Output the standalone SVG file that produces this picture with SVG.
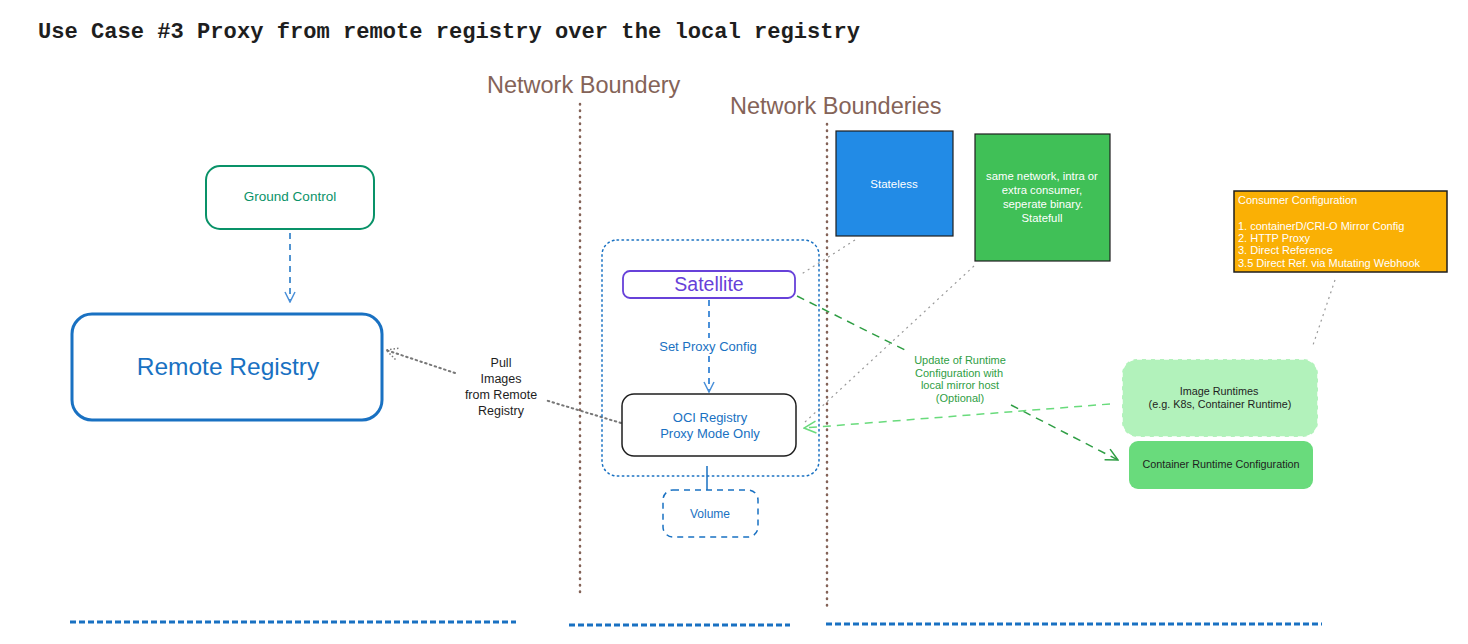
<svg xmlns="http://www.w3.org/2000/svg" width="1468" height="644" viewBox="0 0 1468 644">
<style>
.hand{font-family:"Liberation Sans","DejaVu Sans",sans-serif;}
.brown{fill:#846358;}
.bline{stroke:#846358;stroke-width:2.5;stroke-linecap:round;stroke-dasharray:0.5 6;fill:none;}
.gray{stroke:#9a9a9a;stroke-width:1.2;stroke-dasharray:2 4;fill:none;}
.blued{stroke:#1971c2;stroke-width:3;stroke-dasharray:6 3;fill:none;}
</style>
<defs>
<marker id="arBlue" viewBox="0 0 12 12" refX="11" refY="6" markerWidth="12" markerHeight="12" markerUnits="userSpaceOnUse" orient="auto"><path d="M1,1 L11,6 L1,11" fill="none" stroke="#4a90d9" stroke-width="1.5"/></marker>
<marker id="arGray" viewBox="0 0 14 14" refX="13" refY="7" markerWidth="14" markerHeight="14" markerUnits="userSpaceOnUse" orient="auto"><path d="M1,1 L13,7 L1,13" fill="none" stroke="#777" stroke-width="1.5" stroke-dasharray="1.5 2"/></marker>
<marker id="arGreen" viewBox="0 0 14 14" refX="13" refY="7" markerWidth="14" markerHeight="14" markerUnits="userSpaceOnUse" orient="auto"><path d="M1,1 L13,7 L1,13" fill="none" stroke="#2f9e44" stroke-width="1.5"/></marker>
<marker id="arLGreen" viewBox="0 0 14 14" refX="13" refY="7" markerWidth="14" markerHeight="14" markerUnits="userSpaceOnUse" orient="auto"><path d="M1,1 L13,7 L1,13" fill="none" stroke="#69db7c" stroke-width="1.5"/></marker>
</defs>
<rect width="1468" height="644" fill="#ffffff"/>
<text x="38" y="38" font-family="Liberation Mono, DejaVu Sans Mono, monospace" font-size="22.1" font-weight="bold" fill="#1e1e1e">Use Case #3 Proxy from remote registry over the local registry</text>

<g id="boundaries">
<text class="hand brown" x="487" y="93" font-size="23.5">Network Boundery</text>
<line class="bline" x1="580" y1="104" x2="580" y2="592"/>
<text class="hand brown" x="730" y="114" font-size="23.5">Network Bounderies</text>
<line class="bline" x1="827" y1="124" x2="827" y2="610"/>
<line class="blued" x1="70" y1="622" x2="516" y2="622"/>
<line class="blued" x1="569" y1="625" x2="790" y2="625"/>
<line class="blued" x1="826" y1="624" x2="1322" y2="624"/>
</g>

<g id="connectors">
<line x1="290" y1="233" x2="290" y2="302" stroke="#1971c2" stroke-width="1.5" stroke-dasharray="6 5" marker-end="url(#arBlue)"/>
<line x1="709" y1="300" x2="709" y2="338" stroke="#4a90d9" stroke-width="2" stroke-dasharray="6 5"/>
<line x1="709" y1="356" x2="709" y2="392" stroke="#4a90d9" stroke-width="2" stroke-dasharray="6 5" marker-end="url(#arBlue)"/>
<path d="M621,423 L545,400 M455,373 L386,350" stroke="#777" stroke-width="2" stroke-dasharray="1.5 3.5" stroke-linecap="round" fill="none" marker-end="url(#arGray)"/>
<line x1="707" y1="466" x2="707" y2="490" stroke="#1971c2" stroke-width="1.5"/>
<path d="M797,296 L907,351" stroke="#2f9e44" stroke-width="1.5" stroke-dasharray="8 6" fill="none"/>
<path d="M1011,405 L1118,460" stroke="#2f9e44" stroke-width="1.5" stroke-dasharray="8 6" fill="none" marker-end="url(#arGreen)"/>
<line x1="1110" y1="404" x2="804" y2="428" stroke="#69db7c" stroke-width="1.5" stroke-dasharray="8 6" marker-end="url(#arLGreen)"/>
<line class="gray" x1="855" y1="240" x2="800" y2="275"/>
<line class="gray" x1="974" y1="266" x2="805" y2="422"/>
<line class="gray" x1="1335" y1="280" x2="1312" y2="348"/>
</g>

<g id="ground-control">
<rect x="206" y="166" width="168" height="63" rx="14" fill="none" stroke="#099268" stroke-width="2"/>
<text class="hand" x="290" y="201" font-size="13.5" fill="#099268" text-anchor="middle">Ground Control</text>
</g>

<g id="remote-registry">
<rect x="72" y="314" width="310" height="106" rx="20" fill="none" stroke="#1971c2" stroke-width="3"/>
<text class="hand" x="228" y="375" font-size="24.5" fill="#1971c2" text-anchor="middle">Remote Registry</text>
</g>

<g id="pull-label">
<text class="hand" x="501" y="367" font-size="12.5" fill="#1e1e1e" text-anchor="middle">Pull</text>
<text class="hand" x="501" y="383" font-size="12.5" fill="#1e1e1e" text-anchor="middle">Images</text>
<text class="hand" x="501" y="399" font-size="12.5" fill="#1e1e1e" text-anchor="middle">from Remote</text>
<text class="hand" x="501" y="415" font-size="12.5" fill="#1e1e1e" text-anchor="middle">Registry</text>
</g>

<g id="proxy-container">
<rect x="602" y="240" width="217" height="236" rx="15" fill="none" stroke="#1971c2" stroke-width="1.5" stroke-dasharray="1.5 3.5" stroke-linecap="round"/>
</g>

<g id="satellite">
<rect x="623" y="271" width="172" height="27" rx="7" fill="none" stroke="#6741d9" stroke-width="1.8"/>
<text class="hand" x="709" y="291" font-size="19.5" fill="#6741d9" text-anchor="middle">Satellite</text>
</g>

<g id="set-proxy-label">
<text class="hand" x="708" y="351" font-size="13" fill="#1971c2" text-anchor="middle">Set Proxy Config</text>
</g>

<g id="oci-registry">
<rect x="622" y="394" width="174" height="62" rx="12" fill="none" stroke="#1e1e1e" stroke-width="1.5"/>
<text class="hand" x="710" y="422" font-size="13" fill="#1971c2" text-anchor="middle">OCI Registry</text>
<text class="hand" x="710" y="438" font-size="13" fill="#1971c2" text-anchor="middle">Proxy Mode Only</text>
</g>

<g id="volume">
<rect x="663" y="490" width="95" height="47" rx="10" fill="none" stroke="#1971c2" stroke-width="1.5" stroke-dasharray="6 5"/>
<text class="hand" x="710" y="518" font-size="12" fill="#1971c2" text-anchor="middle">Volume</text>
</g>

<g id="stateless">
<rect x="836" y="131" width="117" height="105" fill="#228be6" stroke="#1e1e1e" stroke-width="1.2"/>
<text class="hand" x="894" y="188" font-size="11.5" fill="#ffffff" text-anchor="middle">Stateless</text>
</g>

<g id="statefull">
<rect x="975" y="134" width="135" height="127" fill="#40c057" stroke="#1e1e1e" stroke-width="1.2"/>
<text class="hand" x="1042" y="180" font-size="11.3" fill="#ffffff" text-anchor="middle">same network, intra or</text>
<text class="hand" x="1042" y="194" font-size="11.3" fill="#ffffff" text-anchor="middle">extra consumer,</text>
<text class="hand" x="1043" y="208" font-size="11.3" fill="#ffffff" text-anchor="middle">seperate  binary.</text>
<text class="hand" x="1042" y="222" font-size="11.3" fill="#ffffff" text-anchor="middle">Statefull</text>
</g>

<g id="consumer-config">
<rect x="1234" y="191" width="213" height="81" fill="#fab005" stroke="#1e1e1e" stroke-width="1.5"/>
<g class="hand" font-size="11" fill="#ffffff">
<text x="1238" y="204">Consumer Configuration</text>
<text x="1238" y="230">1.  containerD/CRI-O Mirror Config</text>
<text x="1238" y="242">2. HTTP Proxy</text>
<text x="1238" y="254">3. Direct Reference</text>
<text x="1238" y="267">3.5 Direct Ref. via Mutating Webhook</text>
</g>
</g>

<g id="update-label">
<g class="hand" font-size="11" fill="#2f9e44" text-anchor="middle">
<text x="960" y="364">Update of Runtime</text>
<text x="959" y="377">Configuration with</text>
<text x="960" y="389">local mirror host</text>
<text x="960" y="402">(Optional)</text>
</g>
</g>

<g id="image-runtimes">
<rect x="1122" y="359" width="196" height="78" rx="15" fill="#b2f2bb" stroke="#ffffff" stroke-width="1.5" stroke-dasharray="5 4"/>
<text class="hand" x="1219" y="395" font-size="10.8" fill="#1e1e1e" text-anchor="middle">Image Runtimes</text>
<text class="hand" x="1220" y="408" font-size="10.8" fill="#1e1e1e" text-anchor="middle">(e.g. K8s, Container Runtime)</text>
</g>

<g id="container-runtime-config">
<rect x="1129" y="441" width="184" height="48" rx="9" fill="#69db7c"/>
<text class="hand" x="1221" y="468" font-size="10.8" fill="#1e1e1e" text-anchor="middle">Container Runtime Configuration</text>
</g>
</svg>
